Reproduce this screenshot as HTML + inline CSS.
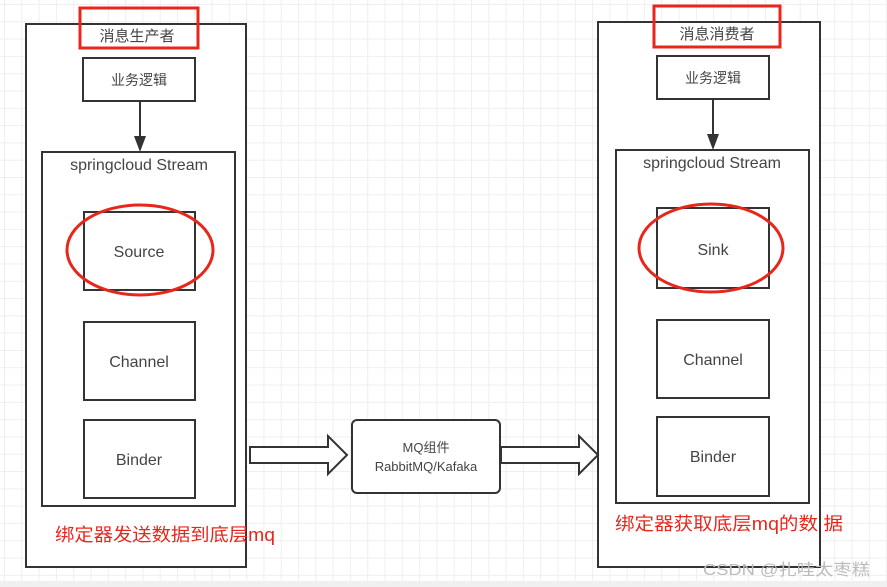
<!DOCTYPE html>
<html><head><meta charset="utf-8"><style>
body{margin:0;width:887px;height:587px;overflow:hidden;background:#fff;
background-image:linear-gradient(#efefef 1px,transparent 1px),linear-gradient(90deg,#efefef 1px,transparent 1px);background-size:17.3px 17.3px;background-position:4px 4px;font-family:"Liberation Sans","Noto Sans CJK SC",sans-serif;}
</style></head><body>
<svg width="887" height="587" style="position:absolute;left:0;top:0" font-family="Liberation Sans, Noto Sans CJK SC, sans-serif">
<rect x="0" y="581" width="887" height="6" fill="#f0f0f0"/>
<g fill="#fff" stroke="#333" stroke-width="2">
<rect x="26" y="24" width="220" height="543" />
<rect x="83" y="58" width="112" height="43"/>
<rect x="42" y="152" width="193" height="354"/>
<rect x="84" y="212" width="111" height="78"/>
<rect x="84" y="322" width="111" height="78"/>
<rect x="84" y="420" width="111" height="78"/>
<rect x="598" y="22" width="222" height="545"/>
<rect x="657" y="56" width="112" height="43"/>
<rect x="616" y="150" width="193" height="353"/>
<rect x="657" y="208" width="112" height="80"/>
<rect x="657" y="320" width="112" height="78"/>
<rect x="657" y="417" width="112" height="79"/>
<rect x="352" y="420" width="148" height="73" rx="5"/>
<path d="M250 447 H328 V436 L347 455 L328 474 V463 H250 Z"/>
<path d="M501 447 H579 V436 L598 455 L579 474 V463 H501 Z"/>
</g>
<line x1="140" y1="101" x2="140" y2="138" stroke="#333" stroke-width="2"/>
<path d="M134 136 L146 136 L140 152 Z" fill="#333"/>
<line x1="713" y1="99" x2="713" y2="136" stroke="#333" stroke-width="2"/>
<path d="M707 134 L719 134 L713 150 Z" fill="#333"/>
<g fill="none" stroke="#e8271c" stroke-width="3">
<rect x="80" y="8" width="118" height="40"/>
<rect x="654" y="6" width="126" height="41"/>
<ellipse cx="140" cy="250" rx="73" ry="45"/>
<ellipse cx="711" cy="248" rx="72" ry="44"/>
</g>
<g fill="#444" text-anchor="middle">
<text x="137" y="41" font-size="15">消息生产者</text>
<text x="717" y="39" font-size="15">消息消费者</text>
<text x="139" y="85" font-size="14">业务逻辑</text>
<text x="713" y="83" font-size="14">业务逻辑</text>
<text x="139" y="170" font-size="16">springcloud Stream</text>
<text x="712" y="168" font-size="16">springcloud Stream</text>
<text x="139" y="257" font-size="16">Source</text>
<text x="139" y="367" font-size="16">Channel</text>
<text x="139" y="465" font-size="16">Binder</text>
<text x="713" y="255" font-size="16">Sink</text>
<text x="713" y="365" font-size="16">Channel</text>
<text x="713" y="462" font-size="16">Binder</text>
<text x="426" y="452" font-size="13">MQ组件</text>
<text x="426" y="471" font-size="13">RabbitMQ/Kafaka</text>
</g>
<text x="55" y="541" font-size="18" fill="#e8271c" textLength="220" lengthAdjust="spacingAndGlyphs">绑定器发送数据到底层mq</text>
<text x="615" y="530" font-size="18" fill="#e8271c" textLength="228" lengthAdjust="spacingAndGlyphs">绑定器获取底层mq的数 据</text>
<text x="703" y="575" font-size="16" fill="#bbb" textLength="167" lengthAdjust="spacingAndGlyphs">CSDN @扎哇太枣糕</text>
</svg>
</body></html>
